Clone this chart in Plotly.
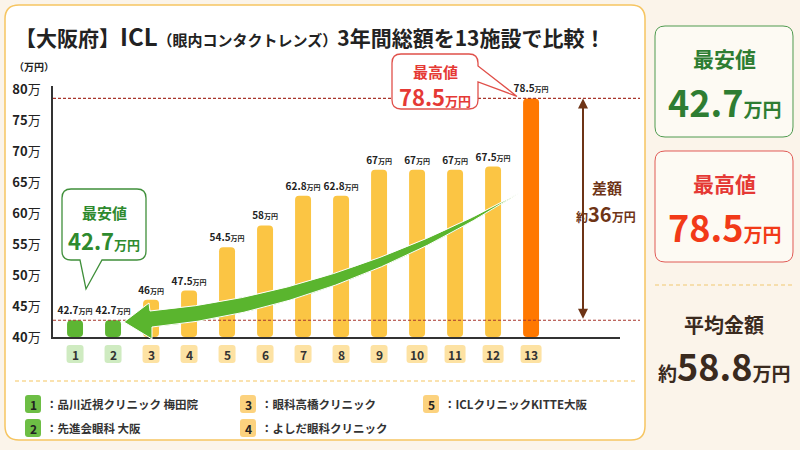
import plotly.graph_objects as go

# ---------------- data ----------------
clinic_ids = list(range(1, 14))
prices = [42.7, 42.7, 46, 47.5, 54.5, 58, 62.8, 62.8, 67, 67, 67, 67.5, 78.5]
y_ticks = [40, 45, 50, 55, 60, 65, 70, 75, 80]
y_tick_text = [f"<b>{v}</b>万" for v in y_ticks]
legend_ids = [1, 2, 3, 4, 5]
legend_names = ["品川近視クリニック 梅田院", "先進会眼科 大阪", "眼科高橋クリニック",
                "よしだ眼科クリニック", "ICLクリニックKITTE大阪"]

min_price = min(prices)
max_price = max(prices)
avg_price = sum(prices) / len(prices)
diff = round(max_price - min_price)

FONT = "Noto Sans CJK JP, Noto Sans, sans-serif"
GREEN = "#5DB533"
YELLOW = "#FBC544"
ORANGE = "#FF7800"
DARK = "#222222"

# ---------------- layout geometry ----------------
W, H = 800, 450
ML, MR, MT, MB = 53, 180, 86, 113
PW, PH = W - ML - MR, H - MT - MB
XR = [0.42, 15.34]
YR = [40, 80.5]


def xpix(v):
    return ML + (v - XR[0]) / (XR[1] - XR[0]) * PW


def ypix(v):
    return MT + (YR[1] - v) / (YR[1] - YR[0]) * PH


def P(xp, yp):
    return ((xp - ML) / PW, (H - MB - yp) / PH)


def pt(x, y):
    a, b = P(x, y)
    return f"{a:.5f},{b:.5f}"


def rrect(x0, y0, x1, y1, r, bottom_tail=None, right_tail=None):
    s = f"M{pt(x0 + r, y0)} L{pt(x1 - r, y0)} Q{pt(x1, y0)} {pt(x1, y0 + r)}"
    if right_tail:
        for p in right_tail:
            s += f" L{pt(*p)}"
    s += f" L{pt(x1, y1 - r)} Q{pt(x1, y1)} {pt(x1 - r, y1)}"
    if bottom_tail:
        for p in bottom_tail:
            s += f" L{pt(*p)}"
    s += (f" L{pt(x0 + r, y1)} Q{pt(x0, y1)} {pt(x0, y1 - r)}"
          f" L{pt(x0, y0 + r)} Q{pt(x0, y0)} {pt(x0 + r, y0)} Z")
    return s


shapes = []
annots = []


def add_path(path, fill, line_color, lw=1, layer="above"):
    shapes.append(dict(type="path", path=path, xref="paper", yref="paper",
                       fillcolor=fill, line=dict(color=line_color, width=lw), layer=layer))


def add_text(xp, yp, text, size, color=DARK, xanchor="center"):
    a, b = P(xp, yp)
    annots.append(dict(x=a, y=b, xref="paper", yref="paper", text=text, showarrow=False,
                       font=dict(size=size, color=color, family=FONT),
                       xanchor=xanchor, yanchor="middle"))


def hline(x0, x1, yp, color, dash="dash", width=1, layer="above"):
    a0, b = P(x0, yp)
    a1, _ = P(x1, yp)
    shapes.append(dict(type="line", xref="paper", yref="paper", x0=a0, x1=a1, y0=b, y1=b,
                       line=dict(color=color, width=width, dash=dash), layer=layer))


# main white panel
add_path(rrect(5, 5, 645, 440, 14), "#FFFFFF", "#F6C561", 1.5, layer="below")

# ---------------- bars ----------------
colors = [GREEN if v == min_price else (ORANGE if v == max_price else YELLOW) for v in prices]
texts = [f"<b>{v:g}</b><span style='font-size:7px'><b>万円</b></span>" for v in prices]

fig = go.Figure(go.Bar(
    x=clinic_ids, y=[v - YR[0] for v in prices], base=YR[0],
    marker=dict(color=colors, cornerradius=4, line=dict(width=0)),
    width=0.42, text=texts, textposition="outside", constraintext="none",
    cliponaxis=False, textfont=dict(size=10, color=DARK, family=FONT),
    hoverinfo="skip",
))

# dashed reference lines at min and max
for v in (min_price, max_price):
    hline(ML, 640, ypix(v), "#A8362C", dash="3px,2px", width=1.2)

# category badges under the axis
for i in clinic_ids:
    cx = xpix(i)
    w = 17 if i < 10 else 21
    fill = "#CFEBC1" if prices[i - 1] == min_price else "#FDE2A3"
    add_path(rrect(cx - w / 2, 345, cx + w / 2, 363, 3), fill, fill, 0)
    add_text(cx, 354, f"<b>{i}</b>", 12, "#333333")

# big green trend arrow
arrow_path = (f"M{pt(150, 311)} Q{pt(333, 295)} {pt(519, 193)} Q{pt(336, 310)} {pt(152, 327)}"
              f" L{pt(152, 339)} L{pt(124, 322)} L{pt(149, 303)} Z")
add_path(arrow_path, "#5AB52E", "#FFFFFF", 1)

# green callout (minimum)
add_path(rrect(62, 189, 146, 260, 9, bottom_tail=[(102, 260), (86, 289), (80, 260)]),
         "#FFFFFF", "#3F8F3A", 1.3)
add_text(104, 212, "<b>最安値</b>", 15, "#2E8A2E")
add_text(104, 240, f"<b>{min_price:g}<span style='font-size:13px'>万円</span></b>", 22, "#2E8A2E")

# red callout (maximum)
add_path(rrect(392, 54, 478, 109, 9, right_tail=[(478, 66), (517, ypix(max_price) - 2), (478, 82)]),
         "#FFFFFF", "#E0504A", 1.3)
add_text(435, 71, "<b>最高値</b>", 15, "#E53935")
add_text(435, 96, f"<b>{max_price:g}<span style='font-size:13px'>万円</span></b>", 22, "#E53935")

# brown difference arrow
ax_, ay_top = P(583, ypix(max_price))
annots.append(dict(x=ax_, y=ay_top, xref="paper", yref="paper", text="", showarrow=True,
                   ax=0, ay=ypix(min_price) - ypix(max_price), axref="pixel", ayref="pixel",
                   arrowhead=2, arrowside="end+start", arrowsize=1, arrowwidth=2,
                   arrowcolor="#6E3416", standoff=0, startstandoff=0))
add_text(607, 187, "<b>差額</b>", 15, "#6E3416")
add_text(606, 213, f"<b><span style='font-size:12px'>約</span>{diff}"
                   f"<span style='font-size:12px'>万円</span></b>", 20, "#6E3416")

# title and unit label
add_text(13, 36, "<b>【大阪府】<span style='font-size:24px'>ICL</span>"
                 "<span style='font-size:15px'>（眼内コンタクトレンズ）</span>"
                 "3年間総額を13施設で比較！</b>", 21, DARK, xanchor="left")
add_text(12, 66, "<b>（万円）</b>", 10, DARK, xanchor="left")

# legend area
hline(15, 635, 381, "#F6C561", dash="4px,3px", width=1.2)
leg_pos = [(33, 404), (33, 428), (248, 404), (248, 428), (431, 404)]
for cid, name, (bx, by) in zip(legend_ids, legend_names, leg_pos):
    fill = "#6DBE45" if prices[cid - 1] == min_price else "#FCD27E"
    add_path(rrect(bx - 8, by - 9, bx + 8, by + 9, 3), fill, fill, 0)
    add_text(bx, by, f"<b>{cid}</b>", 12, "#222222")
    add_text(bx + 11, by, f"<b>：{name}</b>", 11.5, "#333333", xanchor="left")

# right summary cards
add_path(rrect(655, 26, 793, 137, 10), "#FDFAF3", "#4E9A4E", 1)
add_text(724, 58, "<b>最安値</b>", 21, "#2E7D32")
add_text(724, 101, f"<b>{min_price:g}<span style='font-size:19px'>万円</span></b>", 36, "#2E7D32")
add_path(rrect(655, 151, 793, 262, 10), "#FDFAF3", "#E05A55", 1)
add_text(724, 183, "<b>最高値</b>", 21, "#E53935")
add_text(724, 226, f"<b>{max_price:g}<span style='font-size:19px'>万円</span></b>", 36, "#F23A18")
hline(655, 793, 285, "#F2C870", dash="4px,3px", width=1.2)
add_text(724, 324, "<b>平均金額</b>", 20, "#3A2A1E")
add_text(724, 365, f"<b><span style='font-size:19px'>約</span>{avg_price:.1f}"
                   f"<span style='font-size:19px'>万円</span></b>", 36, "#3A2A1E")

fig.update_layout(
    width=W, height=H, margin=dict(l=ML, r=MR, t=MT, b=MB, autoexpand=False),
    paper_bgcolor="#FBF4EA", plot_bgcolor="rgba(0,0,0,0)",
    font=dict(family=FONT, color=DARK),
    showlegend=False, bargap=0.5,
    shapes=shapes, annotations=annots,
    xaxis=dict(range=XR, showgrid=False, zeroline=False, showticklabels=False, ticks="",
               showline=True, linecolor="#333333", linewidth=1.5, fixedrange=True),
    yaxis=dict(range=YR, tickvals=y_ticks, ticktext=y_tick_text, showgrid=False, zeroline=False,
               showline=True, linecolor="#333333", linewidth=1.5, ticks="",
               tickfont=dict(size=13, color=DARK, family=FONT), ticklabelstandoff=8,
               fixedrange=True),
)

fig.write_html("out.html")
